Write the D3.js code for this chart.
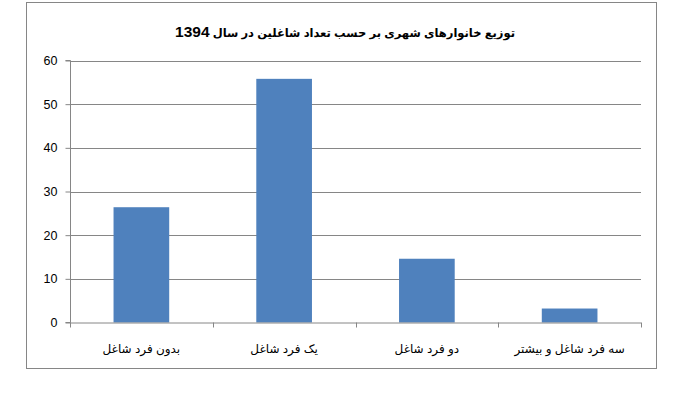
<!DOCTYPE html>
<html><head><meta charset="utf-8">
<script src="https://cdn.jsdelivr.net/npm/d3@7"></script>
<style>body{margin:0;background:#fff}</style>
</head><body>
<svg id="c" width="677" height="409"></svg>
<script>
const categories = ["بدون فرد شاغل","یک فرد شاغل","دو فرد شاغل","سه فرد شاغل و بیشتر"];
const values = [26.4, 55.8, 14.6, 3.2];
const yTicks = [0,10,20,30,40,50,60];
const titleText = "توزیع خانوارهای شهری بر حسب تعداد شاغلین در سال";
const titleYear = "1394";

const svg = d3.select("#c");
const font = "'Liberation Sans', 'DejaVu Sans', Arial, sans-serif";
svg.append("rect").attr("x",26.5).attr("y",2.5).attr("width",630).attr("height",366)
  .attr("fill","#fff").attr("stroke","#868686").attr("stroke-width",1);

const m = {l:70, r:641, t:60.5, b:322.5};
const x = d3.scaleBand().domain(categories).range([m.l, m.r]).paddingInner(0.61).paddingOuter(0.305);
const y = d3.scaleLinear().domain([0,60]).range([m.b, m.t]);

// gridlines
svg.append("g").selectAll("line").data(yTicks.filter(d=>d>0)).join("line")
  .attr("x1",m.l).attr("x2",m.r).attr("y1",d=>Math.round(y(d))+0.5).attr("y2",d=>Math.round(y(d))+0.5)
  .attr("stroke","#868686");

// bars
svg.append("g").selectAll("rect").data(values).join("rect")
  .attr("x",(d,i)=>x(categories[i])).attr("width",x.bandwidth())
  .attr("y",d=>y(d)).attr("height",d=>y(0)-y(d)).attr("fill","#4F81BD");

// y axis
const ya = d3.axisLeft(y).tickValues(yTicks).tickSize(5).tickPadding(8).tickFormat(d3.format("d"));
const gy = svg.append("g").attr("transform",`translate(${m.l+0.5},0)`).call(ya);
gy.select(".domain").attr("stroke","#868686").attr("d",`M-5,${m.t}H0V${m.b}H-5`);
gy.selectAll(".tick line").attr("stroke","#868686");
gy.selectAll(".tick text").attr("font-family",font).attr("font-size",12.5).attr("fill","#000");

// x axis
const gx = svg.append("g").attr("transform",`translate(0,${m.b})`);
gx.append("line").attr("x1",m.l).attr("x2",m.r).attr("y1",0.5).attr("y2",0.5).attr("stroke","#868686");
const bounds = d3.range(categories.length+1).map(i=>m.l + i*(m.r-m.l)/categories.length);
gx.selectAll("line.t").data(bounds).join("line").attr("class","t")
  .attr("x1",d=>Math.round(d)+0.5).attr("x2",d=>Math.round(d)+0.5).attr("y1",0).attr("y2",5).attr("stroke","#868686");
gx.selectAll("text").data(categories).join("text")
  .attr("x",d=>x(d)+x.bandwidth()/2).attr("y",30).attr("text-anchor","middle")
  .attr("font-family",font).attr("font-size",12).attr("fill","#000").text(d=>d);

// title
const t = svg.append("text").attr("x",345).attr("y",37).attr("text-anchor","middle")
  .attr("font-family",font).attr("font-weight","bold").attr("fill","#000")
  .attr("direction","rtl");
t.append("tspan").attr("font-size",11.5).text(titleText + " ");
t.append("tspan").attr("font-size",15.5).text(titleYear);
</script>
</body></html>
